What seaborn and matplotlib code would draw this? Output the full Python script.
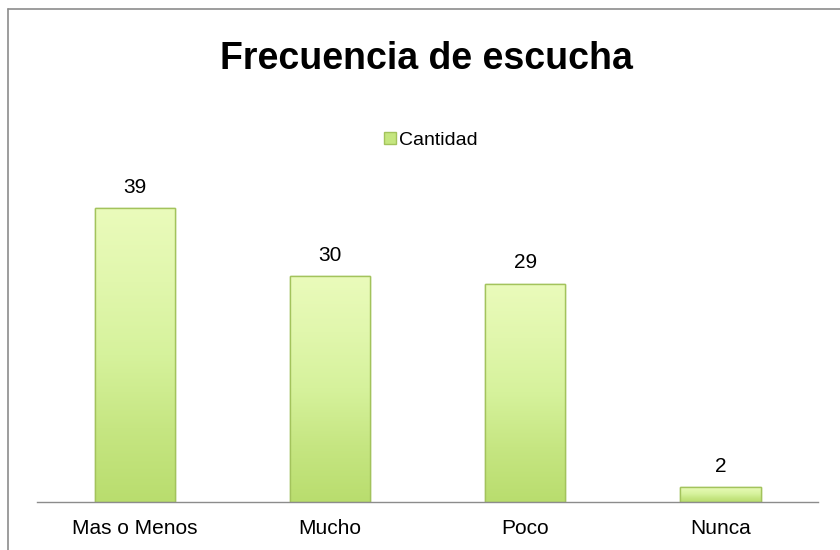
import numpy as np
import pandas as pd
import matplotlib
matplotlib.use("Agg")
import matplotlib.pyplot as plt
import seaborn as sns
from matplotlib.colors import LinearSegmentedColormap
from matplotlib.lines import Line2D

categories = ["Mas o Menos", "Mucho", "Poco", "Nunca"]
values = [39, 30, 29, 2]
series_name = "Cantidad"
title = "Frecuencia de escucha"

sns.set_style("white")
plt.rcParams['font.family'] = ['Liberation Sans', 'DejaVu Sans']
plt.rcParams['text.color'] = 'black'
plt.rcParams['xtick.color'] = 'black'

df = pd.DataFrame({"cat": categories, "val": values})

fig = plt.figure(figsize=(8.4, 5.5), dpi=100)
ax = fig.add_axes([0.044, 0.0873, 0.93, 0.6164])

sns.barplot(data=df, x="cat", y="val", color="#d4ef98", width=0.41, ax=ax,
            edgecolor="#a3c35c", linewidth=1.0, saturation=1)

cmap = LinearSegmentedColormap.from_list(
    "g", ["#b9dd6e", "#c6e682", "#d6f29c", "#e1f7ad", "#eafbbb"])
grad = np.linspace(0, 1, 256).reshape(-1, 1)
for p in ax.patches:
    x0, y0 = p.get_x(), p.get_y()
    w, h = p.get_width(), p.get_height()
    im = ax.imshow(grad, extent=[x0, x0 + w, y0, y0 + h], origin="lower",
                   cmap=cmap, aspect="auto", zorder=p.get_zorder() + 0.1)
    im.set_clip_path(p)
    ax.add_patch(plt.Rectangle((x0, y0), w, h, fill=False, edgecolor="#a3c35c",
                               linewidth=1.0, zorder=p.get_zorder() + 0.2))
    ax.text(x0 + w / 2, y0 + h + 1.5, f"{int(h)}", ha="center", va="bottom",
            fontsize=15, color="black")

ax.set_xlim(-0.5, 3.5)
ax.set_ylim(0, 45)
ax.set_xlabel("")
ax.set_ylabel("")
ax.set_yticks([])
ax.tick_params(axis="x", length=0, labelsize=15, pad=12)
for s in ["top", "right", "left"]:
    ax.spines[s].set_visible(False)
ax.spines["bottom"].set_color("#8c8c8c")
ax.spines["bottom"].set_linewidth(1.0)

fig.text(0.508, 0.893, title, ha="center", va="center", fontsize=27,
         fontweight="bold", color="black")

handle = Line2D([], [], marker="s", linestyle="none", markersize=8,
                markerfacecolor="#c5e67f", markeredgecolor="#a3c35c")
fig.legend([handle], [series_name], loc="center", bbox_to_anchor=(0.512, 0.746),
           frameon=False, fontsize=14, handletextpad=0.1, handlelength=0.7)

# chart border (left and top)
fig.add_artist(Line2D([0.0095, 0.0095], [0, 0.9836], transform=fig.transFigure,
                      color="#8c8c8c", linewidth=1.2))
fig.add_artist(Line2D([0.0095, 1.0], [0.9836, 0.9836], transform=fig.transFigure,
                      color="#8c8c8c", linewidth=1.2))

fig.savefig("out.png", dpi=100)
